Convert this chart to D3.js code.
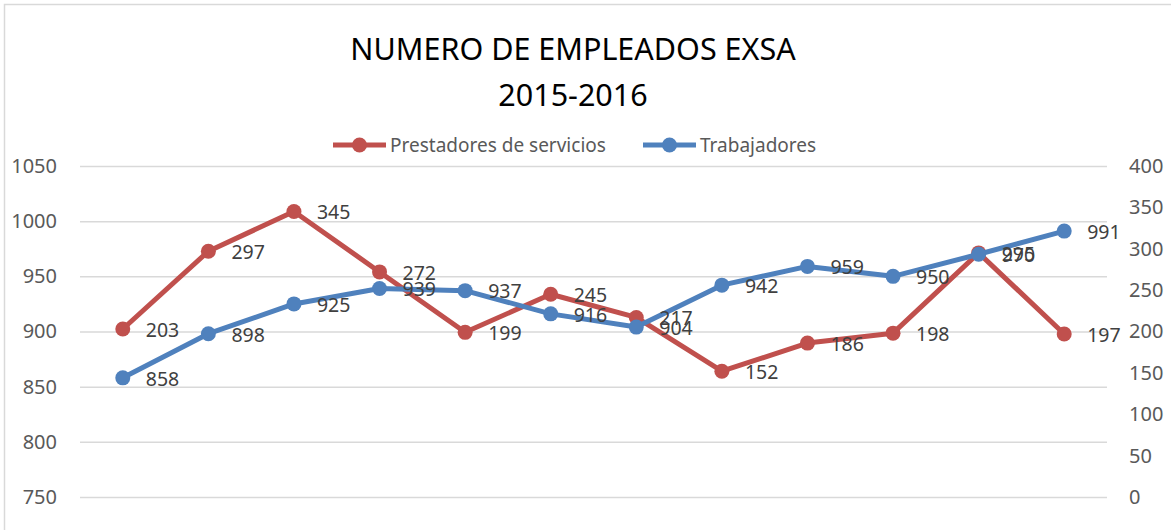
<!DOCTYPE html>
<meta charset="utf-8">
<script src="https://d3js.org/d3.v7.min.js"></script>
<style>
  body { margin: 0; background: #fff; }
  text { font-family: "Noto Sans", "Open Sans", sans-serif; }
</style>
<div id="chart"></div>
<script>

// data
var months = ["1","2","3","4","5","6","7","8","9","10","11","12"];
var prestadores = [203, 297, 345, 272, 199, 245, 217, 152, 186, 198, 295, 197];
var trabajadores = [858, 898, 925, 939, 937, 916, 904, 942, 959, 950, 970, 991];
var leftTicks = [750, 800, 850, 900, 950, 1000, 1050];
var rightTicks = [0, 50, 100, 150, 200, 250, 300, 350, 400];

var W = 1171, H = 530;
var margin = {top: 166, right: 64, bottom: 33, left: 80},
    width = W - margin.left - margin.right,
    height = H - margin.top - margin.bottom;

var svg = d3.select("#chart")
  .append("svg")
    .attr("width", W)
    .attr("height", H);

// outer chart border
svg.append("rect")
    .attr("x", 4.5).attr("y", 4.5)
    .attr("width", W + 10).attr("height", H + 10)
    .attr("fill", "none")
    .attr("stroke", "#d9d9d9")
    .attr("stroke-width", 1.5);

// title
var title = svg.append("text")
    .attr("text-anchor", "middle")
    .attr("fill", "#000")
    .style("font-size", "30.5px");
title.append("tspan").attr("x", 573).attr("y", 60).text("NUMERO DE EMPLEADOS EXSA");
title.append("tspan").attr("x", 573).attr("y", 106).text("2015-2016");

var g = svg.append("g")
    .attr("transform", "translate(" + margin.left + "," + margin.top + ")");

// scales
var x = d3.scaleBand().domain(months).range([0, width]);
var yL = d3.scaleLinear().domain([750, 1050]).range([height, 0]);
var yR = d3.scaleLinear().domain([0, 400]).range([height, 0]);

// grid + left axis
var leftAxis = g.append("g")
    .call(d3.axisLeft(yL).tickValues(leftTicks).tickFormat(d3.format("d"))
      .tickSize(-width).tickPadding(23));
leftAxis.select(".domain").remove();
leftAxis.selectAll("line").attr("stroke", "#d9d9d9").attr("stroke-width", 1.5);
leftAxis.selectAll("text")
    .attr("fill", "#595959")
    .style("font-size", "20px");

// right axis
var rightAxis = g.append("g")
    .attr("transform", "translate(" + width + ",0)")
    .call(d3.axisRight(yR).tickValues(rightTicks).tickFormat(d3.format("d"))
      .tickSize(0).tickPadding(22));
rightAxis.select(".domain").remove();
rightAxis.selectAll("text")
    .attr("fill", "#595959")
    .style("font-size", "20px");

var cx = function(d, i) { return x(months[i]) + x.bandwidth() / 2; };

var series = [
  {name: "Prestadores de servicios", values: prestadores, y: yR, color: "#C0504D"},
  {name: "Trabajadores", values: trabajadores, y: yL, color: "#4F81BD"}
];

// lines + markers
series.forEach(function(s) {
  g.append("path")
    .datum(s.values)
    .attr("fill", "none")
    .attr("stroke", s.color)
    .attr("stroke-width", 5)
    .attr("stroke-linejoin", "round")
    .attr("d", d3.line()
      .x(cx)
      .y(function(d) { return s.y(d); }));

  g.selectAll(null)
    .data(s.values)
    .enter().append("circle")
      .attr("cx", cx)
      .attr("cy", function(d) { return s.y(d); })
      .attr("r", 7.5)
      .attr("fill", s.color);
});

// data labels
series.forEach(function(s) {
  g.selectAll(null)
    .data(s.values)
    .enter().append("text")
      .attr("x", function(d, i) { return cx(d, i) + 23; })
      .attr("y", function(d) { return s.y(d); })
      .attr("dy", "0.4em")
      .attr("fill", "#404040")
      .style("font-size", "19.5px")
      .text(function(d) { return d; });
});

// legend
var legend = svg.append("g");
var legendX = [333, 643];
series.forEach(function(s, i) {
  var lg = legend.append("g").attr("transform", "translate(" + legendX[i] + ",145)");
  lg.append("line")
    .attr("x1", 0).attr("x2", 53)
    .attr("stroke", s.color).attr("stroke-width", 5);
  lg.append("circle")
    .attr("cx", 26.5).attr("r", 7.5).attr("fill", s.color);
  lg.append("text")
    .attr("x", 57).attr("dy", "0.35em")
    .attr("fill", "#595959")
    .style("font-size", "19px")
    .text(s.name);
});

</script>
